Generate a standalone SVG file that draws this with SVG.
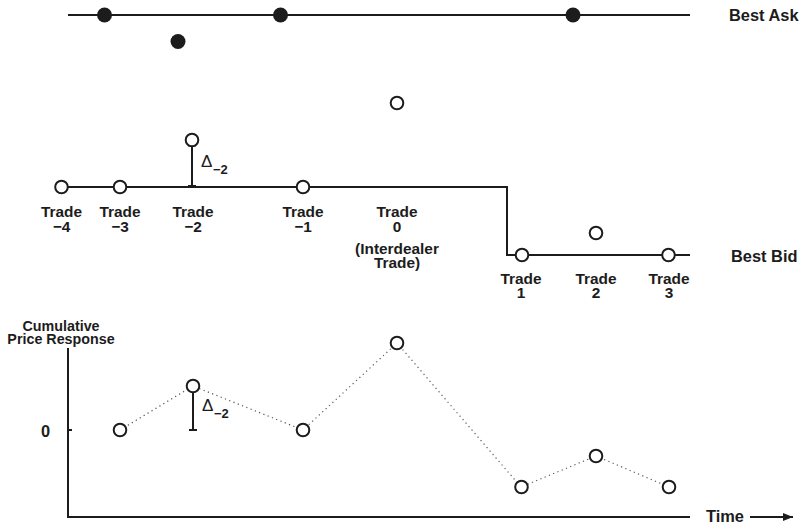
<svg xmlns="http://www.w3.org/2000/svg" width="802" height="526" viewBox="0 0 802 526">
  <defs>
    <style>
      .ln { stroke: #1c1c1c; stroke-width: 2; fill: none; }
      .dot { stroke: #555; stroke-width: 1.2; stroke-dasharray: 1.2 3.4; fill: none; }
      .oc { fill: #fff; stroke: #1c1c1c; stroke-width: 2; }
      .fc { fill: #1c1c1c; }
      .lbl { font-family: "Liberation Sans", Arial, sans-serif; font-weight: bold; font-size: 15.4px; fill: #1c1c1c; text-anchor: middle; }
      .side { font-family: "Liberation Sans", Arial, sans-serif; font-weight: bold; font-size: 16.4px; fill: #1c1c1c; }
      .ax { font-family: "Liberation Sans", Arial, sans-serif; font-weight: bold; font-size: 14.3px; fill: #1c1c1c; text-anchor: middle; }
      .dl { font-family: "Liberation Sans", Arial, sans-serif; font-size: 17px; fill: #1c1c1c; }
      .sub { font-family: "Liberation Sans", Arial, sans-serif; font-weight: bold; font-size: 13px; fill: #1c1c1c; }
    </style>
    <marker id="arr" viewBox="0 0 10 8" refX="10" refY="4" markerWidth="10" markerHeight="8" markerUnits="userSpaceOnUse" orient="auto">
      <path d="M0,0 L10,4 L0,8 Z" fill="#1c1c1c"/>
    </marker>
  </defs>

  <!-- connectors: quote lines, axes, dotted response path, delta bars -->
  <g id="connectors">
    <line class="ln" x1="68" y1="15" x2="690" y2="15"/>
    <polyline class="ln" points="61,187 507,187 507,255 690,255"/>
    <line class="ln" x1="68" y1="348" x2="68" y2="518"/>
    <line class="ln" x1="68" y1="517" x2="690" y2="517"/>
    <line class="ln" x1="68" y1="430" x2="72" y2="430"/>
    <line class="ln" x1="750" y1="517" x2="793" y2="517" marker-end="url(#arr)"/>
    <polyline class="dot" points="120,430 193,386 303,430 397,343 521,487 596,456 669,487"/>
    <!-- Delta bars -->
    <line class="ln" x1="192" y1="145" x2="192" y2="187"/>
    <line class="ln" x1="188" y1="145.5" x2="196" y2="145.5"/>
    <line class="ln" x1="188" y1="186" x2="196" y2="186"/>
    <line class="ln" x1="193" y1="389" x2="193" y2="430"/>
    <line class="ln" x1="189" y1="389.5" x2="197" y2="389.5"/>
    <line class="ln" x1="189" y1="430" x2="197" y2="430"/>
  </g>

  <!-- ask quotes -->
  <g id="ask-quotes">
    <circle class="fc" cx="104.5" cy="15" r="7.5"/>
    <circle class="fc" cx="280.5" cy="15" r="7.5"/>
    <circle class="fc" cx="573" cy="15" r="7.5"/>
    <circle class="fc" cx="178" cy="41.5" r="7.5"/>
  </g>

  <!-- bid quotes and trades -->
  <g id="trade-m4"><circle class="oc" cx="61.5" cy="187" r="6.3"/><text class="lbl" x="61.5" y="217">Trade</text><text class="lbl" x="61.5" y="232">−4</text></g>
  <g id="trade-m3"><circle class="oc" cx="120" cy="187" r="6.3"/><text class="lbl" x="120" y="217">Trade</text><text class="lbl" x="120" y="232">−3</text></g>
  <g id="trade-m2"><circle class="oc" cx="192" cy="140" r="6.3"/><text class="lbl" x="193" y="217">Trade</text><text class="lbl" x="193" y="232">−2</text>
    <text class="dl" x="201" y="167">Δ</text><text class="sub" x="213" y="174">−2</text></g>
  <g id="trade-m1"><circle class="oc" cx="303" cy="187" r="6.3"/><text class="lbl" x="303" y="217">Trade</text><text class="lbl" x="303" y="232">−1</text></g>
  <g id="trade-0"><circle class="oc" cx="397" cy="103" r="6.3"/><text class="lbl" x="397" y="217">Trade</text><text class="lbl" x="397" y="232">0</text><text class="lbl" x="397" y="254">(Interdealer</text><text class="lbl" x="397" y="268">Trade)</text></g>
  <g id="trade-1"><circle class="oc" cx="522" cy="255" r="6.3"/><text class="lbl" x="521" y="284">Trade</text><text class="lbl" x="521" y="298">1</text></g>
  <g id="trade-2"><circle class="oc" cx="596" cy="233" r="6.3"/><text class="lbl" x="596" y="284">Trade</text><text class="lbl" x="596" y="298">2</text></g>
  <g id="trade-3"><circle class="oc" cx="668.5" cy="255" r="6.3"/><text class="lbl" x="669" y="284">Trade</text><text class="lbl" x="669" y="298">3</text></g>

  <g id="side-labels">
    <text class="side" x="729" y="21">Best Ask</text>
    <text class="side" x="731" y="262">Best Bid</text>
  </g>

  <!-- cumulative price response panel -->
  <g id="axis-labels">
    <text class="ax" x="61" y="331">Cumulative</text>
    <text class="ax" x="61" y="344">Price Response</text>
    <text class="side" x="41" y="437">0</text>
    <text class="side" x="706" y="522">Time</text>
  </g>
  <g id="response-points">
    <circle class="oc" cx="120" cy="430" r="6.3"/>
    <circle class="oc" cx="193" cy="386" r="6.3"/>
    <circle class="oc" cx="303" cy="430" r="6.3"/>
    <circle class="oc" cx="397" cy="343" r="6.3"/>
    <circle class="oc" cx="521.5" cy="487" r="6.3"/>
    <circle class="oc" cx="596" cy="456" r="6.3"/>
    <circle class="oc" cx="669" cy="487" r="6.3"/>
    <text class="dl" x="202" y="411">Δ</text><text class="sub" x="214" y="418">−2</text>
  </g>
</svg>
